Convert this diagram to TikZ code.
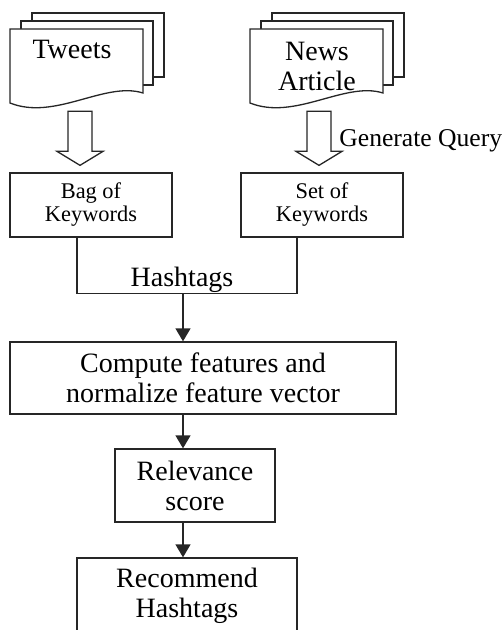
\documentclass[tikz,border=0pt]{standalone}
\usepackage{fontspec}
\setmainfont{Liberation Serif}
\usetikzlibrary{positioning, calc, arrows.meta}

\begin{document}
\begin{tikzpicture}[
        x=0.5pt, y=-0.5pt,
        % Style for plain lines
        edge/.style={draw=black!85, line width=0.65pt},
        % Style for the process boxes
        stepbox/.style={
            rectangle, edge, fill=white, inner sep=0pt,
            align=center, font=\fontsize{14}{15}\selectfont
        },
        smallbox/.style={stepbox, font=\fontsize{11.2}{11.5}\selectfont},
        lbl/.style={align=center, inner sep=0pt, font=\fontsize{14}{15}\selectfont},
        flow/.style={edge, -{Triangle[width=7.5pt, length=6.5pt]}},
        % Stack of three pages, origin at the top left of the front page
        docstack/.pic={
            \draw[edge, fill=white] (22,-16) rectangle (154,48);
            \draw[edge, fill=white] (11,-8) rectangle (143,56);
            \draw[edge, fill=white] (0,0) -- (133,0) -- (133,64)
                .. controls (95,52) and (45,92) .. (0,74) -- cycle;
        },
        % Hollow block arrow, origin at its tip
        hollowarrow/.pic={
            \draw[edge, fill=white] (-12,-54) -- (12,-54) -- (12,-14) -- (23,-14)
                -- (0,0) -- (-23,-14) -- (-12,-14) -- cycle;
        }
    ]
        \useasboundingbox (0,0) rectangle (503,630);

        % 1. Input documents
        \pic at (10,29)  {docstack};
        \pic at (250,29) {docstack};
        \node[lbl] (tweets) at (72,49)  {Tweets};
        \node[lbl] (news)   at (317,66) {News\\Article};

        % 2. Keyword boxes
        \node[smallbox, minimum width=81pt, minimum height=32pt] (bag) at (91,205) {Bag of\\Keywords};
        \node[smallbox, minimum width=81pt, minimum height=32pt] (set) at (322,205) {Set of\\Keywords};

        % 3. Hollow arrows from documents to keywords
        \pic at ($(bag.north)+(-11,-7)$) {hollowarrow};
        \pic at ($(set.north)+(-3,-7)$)  {hollowarrow};
        \node[lbl, anchor=west, font=\fontsize{12.8}{15}\selectfont] (query) at (339,141) {Generate Query};

        % 4. Processing steps
        \node[stepbox, minimum width=193pt, minimum height=36pt] (compute) at (203,378)
            {Compute features and\\normalize feature vector};
        \node[stepbox, minimum width=80pt, minimum height=36.5pt] (relevance) at (195,485.5)
            {Relevance\\score};
        \node[stepbox, minimum width=110pt, minimum height=38pt] (recommend) at (187,596)
            {Recommend\\Hashtags};

        % 5. Joining the keyword sets
        \draw[edge] ($(bag.south)+(-14,0)$) -- ++(0,56) coordinate (join0)
            -| ($(set.south)+(-25,0)$);
        \node[lbl] (hashtags) at (182,280) {Hashtags};
        \coordinate (join) at (183,293);

        % 6. Flow arrows
        \draw[flow] (join) -- (join |- compute.north);
        \draw[flow] (join |- compute.south) -- (join |- relevance.north);
        \draw[flow] (join |- relevance.south) -- (join |- recommend.north);

    \end{tikzpicture}
\end{document}
